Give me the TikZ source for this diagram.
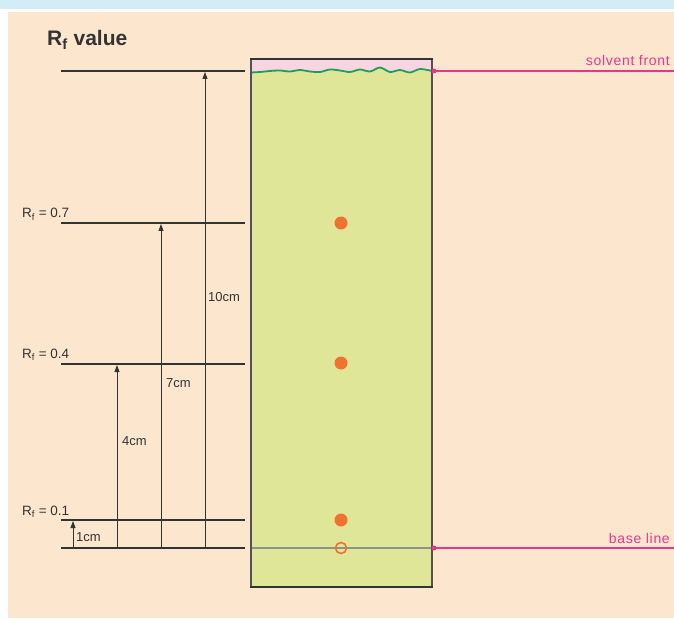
\documentclass[tikz,border=0pt]{standalone}
\usepackage{fontspec}
\setmainfont{Liberation Sans}
\usetikzlibrary{arrows.meta}
\definecolor{peach}{HTML}{FDE6CE}
\definecolor{skyband}{HTML}{D4ECF6}
\definecolor{plategreen}{HTML}{DFE697}
\definecolor{platepink}{HTML}{F7D6E2}
\definecolor{wavegreen}{HTML}{1E9E5A}
\definecolor{magentaline}{HTML}{E8368F}
\definecolor{spotorange}{HTML}{F07230}
\definecolor{inkgray}{HTML}{333333}
\definecolor{basegray}{HTML}{8C9490}
\newcommand{\rfsym}{R\textsubscript{f}}
\tikzset{
  levelline/.style={draw=inkgray, line width=1.8pt},
  measure/.style={draw=inkgray, line width=0.8pt, -{Triangle[length=7pt,width=5pt]}},
  lbl/.style={font=\fontsize{13}{15}\selectfont, text=inkgray, inner sep=0pt},
  rflbl/.style={font=\fontsize{13.5}{15}\selectfont, text=inkgray, inner sep=0pt, anchor=base west},
  pinklbl/.style={font=\fontsize{14}{16}\selectfont\addfontfeature{LetterSpace=5}, text=magentaline, inner sep=0pt, anchor=base east},
  spot/.style={circle, fill=spotorange, minimum size=13pt, inner sep=0pt},
  ringspot/.style={circle, draw=spotorange, line width=1.6pt, minimum size=11pt, inner sep=0pt},
  pinkline/.style={draw=magentaline, line width=1.3pt},
}
\begin{document}
\begin{tikzpicture}[x=1pt, y=-1pt]
% frame and backgrounds
\useasboundingbox (0,0) rectangle (674,620);
\fill[white] (0,0) rectangle (674,620);
\fill[skyband] (0,0) rectangle (674,9.5);
\fill[peach] (8,12) rectangle (674,618);

% title
\node[font=\fontsize{21}{24}\selectfont\bfseries, text=inkgray, anchor=base west, inner sep=0pt] (title) at (47,46) {\rfsym\ value};

% plate: pink band above the solvent front, green below it
\def\wave{(251,72.5) (260,72) (270,71) (280,70.5) (290,71.5) (300,70) (310,71.5) (320,72) (330,69.5) (340,70.5) (350,72) (360,69.5) (370,71.5) (380,67.5) (390,72) (400,70) (410,72.5) (420,69) (432,71)}
\fill[platepink] (251,59) rectangle (432,80);
\fill[plategreen] plot[smooth] coordinates {\wave} -- (432,587) -- (251,587) -- cycle;
\draw[wavegreen, line width=1.8pt] plot[smooth] coordinates {\wave};
\draw[basegray, line width=2pt] (251,548) -- (432,548);
\draw[inkgray!85, line width=1.2pt] (251,59) -- (251,587) (432,59) -- (432,587);
\draw[inkgray, line width=1.8pt] (250.4,59) -- (432.6,59);
\draw[inkgray, line width=1.8pt] (250.4,587) -- (432.6,587);

% spots
\node[spot] (s7) at (341,223) {};
\node[spot] (s4) at (341,363) {};
\node[spot] (s1) at (341,520) {};
\node[ringspot] (s0) at (341,548) {};

% level lines
\coordinate (f0) at (61,71);   \coordinate (f1) at (245,71);
\coordinate (a0) at (61,223);  \coordinate (a1) at (245,223);
\coordinate (b0) at (61,364);  \coordinate (b1) at (245,364);
\coordinate (c0) at (61,520);  \coordinate (c1) at (245,520);
\coordinate (d0) at (61,548);  \coordinate (d1) at (245,548);
\foreach \p in {f,a,b,c,d} \draw[levelline] (\p0) -- (\p1);

% measuring arrows
\coordinate (m1a) at (73,548);  \coordinate (m1b) at (73,521);
\coordinate (m4a) at (117,548); \coordinate (m4b) at (117,365);
\coordinate (m7a) at (161,548); \coordinate (m7b) at (161,224);
\coordinate (mXa) at (205,548); \coordinate (mXb) at (205,72);
\draw[measure] (m1a) -- (m1b);
\draw[measure] (m4a) -- (m4b);
\draw[measure] (m7a) -- (m7b);
\draw[measure] (mXa) -- (mXb);

\node[lbl, anchor=base west] (l1) at (76,541) {1cm};
\node[lbl, anchor=base west] (l4) at (122,445) {4cm};
\node[lbl, anchor=base west] (l7) at (166,387) {7cm};
\node[lbl, anchor=base west] (l10) at (208,301) {10cm};

% Rf labels
\node[rflbl] (r7) at (22,218) {\rfsym\ = 0.7};
\node[rflbl] (r4) at (22,358) {\rfsym\ = 0.4};
\node[rflbl] (r1) at (22,515) {\rfsym\ = 0.1};

% solvent front and base line markers
\coordinate (sf0) at (434,71);  \coordinate (sf1) at (674,71);
\coordinate (bl0) at (434,548); \coordinate (bl1) at (674,548);
\draw[pinkline] (sf0) -- (sf1);
\draw[pinkline] (bl0) -- (bl1);
\fill[magentaline] (sf0) circle (2.5pt);
\fill[magentaline] (bl0) circle (2.5pt);
\node[pinklbl] (sft) at (670,66) {solvent front};
\node[pinklbl] (blt) at (670,543) {base line};
\end{tikzpicture}
\end{document}
